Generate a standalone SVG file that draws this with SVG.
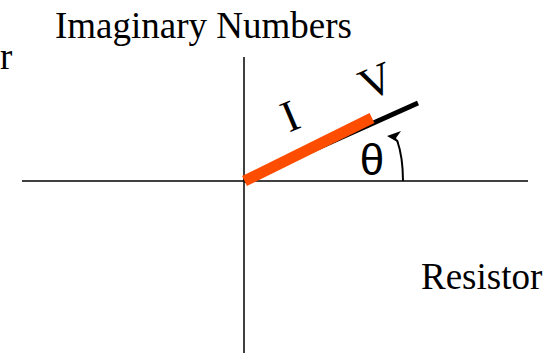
<svg xmlns="http://www.w3.org/2000/svg" width="557" height="353" viewBox="0 0 557 353">
<style>
.t{font-family:"Liberation Serif","Times New Roman",serif;fill:#000}
.ax{stroke:#000;stroke-width:1.5;fill:none}
</style>
<rect width="557" height="353" fill="#fff"/>
<g id="axes">
<line class="ax" x1="22" y1="181" x2="528" y2="181"/>
<line class="ax" x1="244" y1="57" x2="244" y2="353"/>
</g>
<g id="connectors">
<line x1="244" y1="181" x2="418" y2="103" stroke="#000" stroke-width="5"/>
<line x1="244.5" y1="181" x2="372" y2="118" stroke="#ff4d00" stroke-width="11"/>
<path d="M403,181 Q403,157 397,140" stroke="#000" stroke-width="2" fill="none"/>
<polygon points="387,136 401,131 396,138 399,143" fill="#000"/>
</g>
<g id="labels">
<text class="t" x="55" y="38" font-size="37">Imaginary Numbers</text>
<text class="t" x="0" y="69" font-size="37">r</text>
<text class="t" x="421" y="289" font-size="37">Resistor</text>
<text class="t" transform="translate(290,116) rotate(-23)" x="0" y="15" font-size="45" text-anchor="middle">I</text>
<text class="t" transform="translate(376,81) rotate(-23)" x="0" y="15" font-size="45" text-anchor="middle">V</text>
<text x="372" y="175" font-size="44" text-anchor="middle" style="font-family:'Liberation Sans',Arial,sans-serif">θ</text>
</g>
</svg>
